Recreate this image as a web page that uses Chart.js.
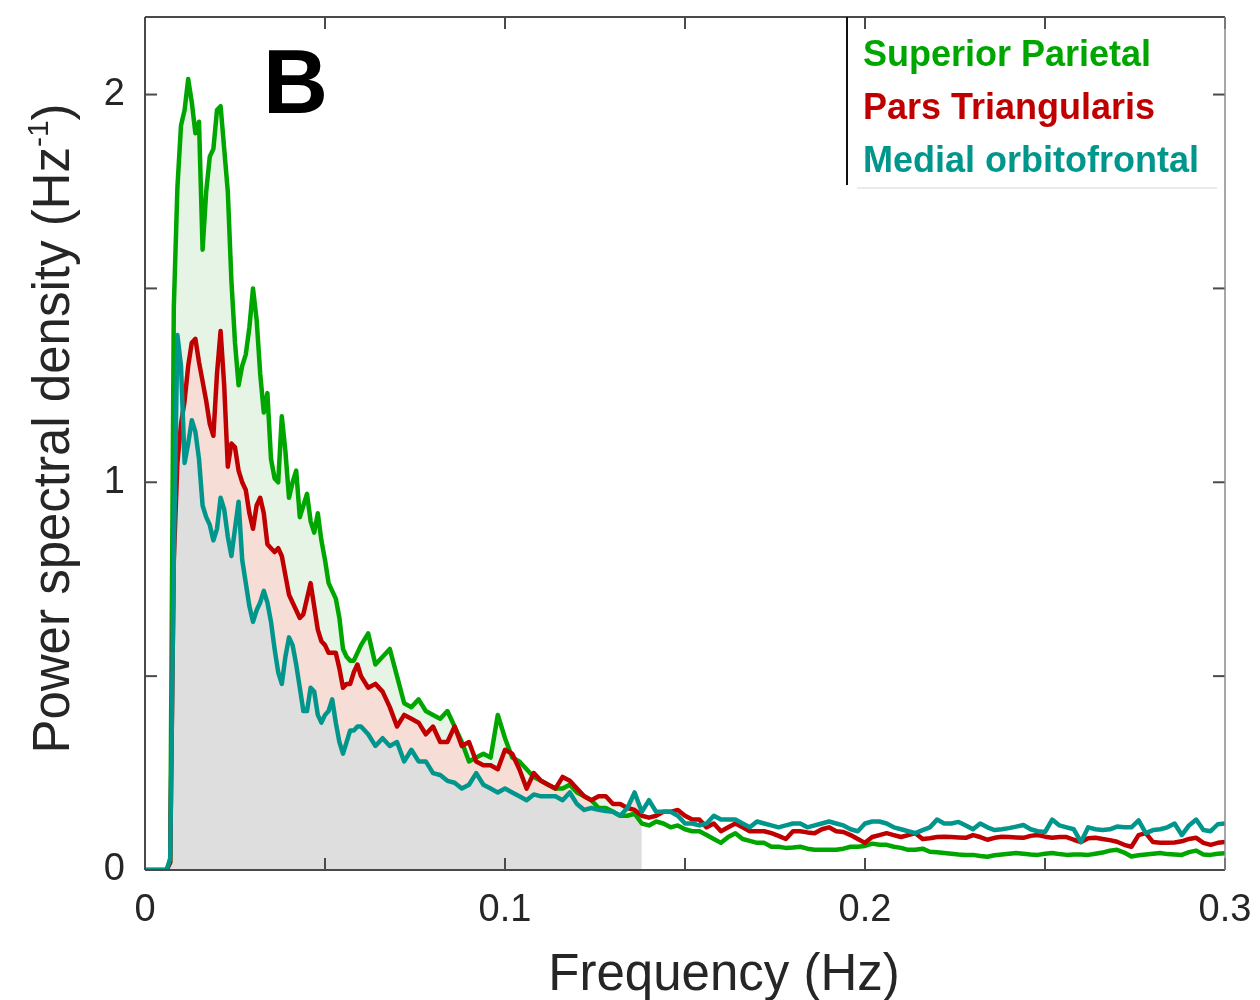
<!DOCTYPE html>
<html>
<head>
<meta charset="utf-8">
<script src="https://cdn.jsdelivr.net/npm/chart.js@4.4.1/dist/chart.umd.min.js"></script>
<style>
  html, body { margin: 0; padding: 0; background: #fff; }
  #wrap { width: 1260px; height: 1000px; position: relative; }
</style>
</head>
<body>
<div id="wrap"><canvas id="psd"></canvas></div>
<script>
// frequency bins (Hz): 0.001 spacing up to 0.06, then 0.002
const freq = [
  0, 0.001, 0.002, 0.003, 0.004, 0.005, 0.006, 0.007, 0.008, 0.009,
  0.010, 0.011, 0.012, 0.013, 0.014, 0.015, 0.016, 0.017, 0.018, 0.019,
  0.020, 0.021, 0.022, 0.023, 0.024, 0.025, 0.026, 0.027, 0.028, 0.029,
  0.030, 0.031, 0.032, 0.033, 0.034, 0.035, 0.036, 0.037, 0.038, 0.039,
  0.040, 0.041, 0.042, 0.043, 0.044, 0.045, 0.046, 0.047, 0.048, 0.049,
  0.050, 0.051, 0.052, 0.053, 0.054, 0.055, 0.056, 0.057, 0.058, 0.059,
  0.060,
  0.062, 0.064, 0.066, 0.068, 0.070, 0.072, 0.074, 0.076, 0.078, 0.080,
  0.082, 0.084, 0.086, 0.088, 0.090, 0.092, 0.094, 0.096, 0.098, 0.100,
  0.102, 0.104, 0.106, 0.108, 0.110, 0.112, 0.114, 0.116, 0.118, 0.120,
  0.122, 0.124, 0.126, 0.128, 0.130, 0.132, 0.134, 0.136, 0.138, 0.140,
  0.142, 0.144, 0.146, 0.148, 0.150, 0.152, 0.154, 0.156, 0.158, 0.160,
  0.162, 0.164, 0.166, 0.168, 0.170, 0.172, 0.174, 0.176, 0.178, 0.180,
  0.182, 0.184, 0.186, 0.188, 0.190, 0.192, 0.194, 0.196, 0.198, 0.200,
  0.202, 0.204, 0.206, 0.208, 0.210, 0.212, 0.214, 0.216, 0.218, 0.220,
  0.222, 0.224, 0.226, 0.228, 0.230, 0.232, 0.234, 0.236, 0.238, 0.240,
  0.242, 0.244, 0.246, 0.248, 0.250, 0.252, 0.254, 0.256, 0.258, 0.260,
  0.262, 0.264, 0.266, 0.268, 0.270, 0.272, 0.274, 0.276, 0.278, 0.280,
  0.282, 0.284, 0.286, 0.288, 0.290, 0.292, 0.294, 0.296, 0.298, 0.300
];

const superiorParietal = [
  0, 0, 0, 0, 0, 0, 0, 0.02, 1.45, 1.76,
  1.92, 1.96, 2.04, 1.98, 1.90, 1.93, 1.60, 1.75, 1.84, 1.86,
  1.96, 1.97, 1.86, 1.75, 1.52, 1.36, 1.25, 1.30, 1.33, 1.40,
  1.50, 1.42, 1.28, 1.18, 1.23, 1.06, 1.01, 1.00, 1.17, 1.08,
  0.96, 1.00, 1.03, 0.91, 0.94, 0.97, 0.90, 0.87, 0.92, 0.85,
  0.80, 0.74, 0.72, 0.70, 0.65, 0.57, 0.55, 0.54, 0.54, 0.56,
  0.58,
  0.61, 0.53, 0.55, 0.57, 0.50, 0.43, 0.42, 0.44, 0.41, 0.40,
  0.39, 0.41, 0.37, 0.33, 0.28, 0.29, 0.30, 0.29, 0.40, 0.34,
  0.29, 0.28, 0.26, 0.24, 0.23, 0.22, 0.21, 0.21, 0.22, 0.20,
  0.19, 0.18, 0.16, 0.16, 0.15, 0.14, 0.14, 0.145, 0.12, 0.115,
  0.125, 0.12, 0.11, 0.115, 0.105, 0.10, 0.10, 0.09, 0.08, 0.07,
  0.085, 0.095, 0.08, 0.075, 0.07, 0.07, 0.06, 0.06, 0.057, 0.058,
  0.06, 0.055, 0.052, 0.052, 0.052, 0.052, 0.055, 0.06, 0.06, 0.062,
  0.068, 0.065, 0.065, 0.06, 0.057, 0.052, 0.052, 0.055, 0.047, 0.046,
  0.044, 0.042, 0.04, 0.039, 0.039, 0.036, 0.034, 0.038, 0.04, 0.042,
  0.044, 0.042, 0.04, 0.039, 0.042, 0.044, 0.041, 0.039, 0.04, 0.04,
  0.039, 0.042, 0.045, 0.05, 0.052, 0.045, 0.035, 0.038, 0.04, 0.042,
  0.044, 0.041, 0.04, 0.039, 0.046, 0.05, 0.04, 0.039, 0.042, 0.043
];

const parsTriangularis = [
  0, 0, 0, 0, 0, 0, 0, 0.02, 0.80, 1.05,
  1.15, 1.21, 1.30, 1.36, 1.37, 1.31, 1.26, 1.21, 1.15, 1.12,
  1.28, 1.39, 1.25, 1.04, 1.10, 1.09, 1.03, 1.00, 0.98, 0.92,
  0.88, 0.94, 0.96, 0.92, 0.84, 0.83, 0.82, 0.83, 0.81, 0.76,
  0.71, 0.69, 0.67, 0.65, 0.66, 0.70, 0.74, 0.68, 0.62, 0.59,
  0.58, 0.56, 0.56, 0.56, 0.52, 0.47, 0.48, 0.48, 0.51, 0.53,
  0.50,
  0.47, 0.48, 0.46, 0.42, 0.37, 0.40, 0.39, 0.38, 0.35, 0.37,
  0.33, 0.33, 0.37, 0.32, 0.33, 0.28, 0.27, 0.27, 0.26, 0.31,
  0.30, 0.26, 0.21, 0.25, 0.23, 0.22, 0.21, 0.24, 0.23, 0.21,
  0.19, 0.18, 0.19, 0.19, 0.17, 0.17, 0.16, 0.155, 0.14, 0.135,
  0.14, 0.15, 0.15, 0.155, 0.14, 0.13, 0.13, 0.11, 0.12, 0.10,
  0.11, 0.12, 0.11, 0.10, 0.10, 0.10, 0.095, 0.088, 0.08, 0.10,
  0.10, 0.097, 0.095, 0.105, 0.11, 0.10, 0.098, 0.09, 0.08, 0.07,
  0.085, 0.09, 0.095, 0.09, 0.085, 0.09, 0.095, 0.08, 0.082, 0.085,
  0.086, 0.085, 0.084, 0.083, 0.09, 0.085, 0.078, 0.083, 0.086, 0.085,
  0.084, 0.083, 0.088, 0.09, 0.086, 0.083, 0.085, 0.085, 0.078, 0.072,
  0.082, 0.083, 0.08, 0.077, 0.073, 0.065, 0.06, 0.09, 0.095, 0.072,
  0.07, 0.07, 0.071, 0.074, 0.08, 0.083, 0.07, 0.065, 0.07, 0.072
];

const medialOrbitofrontal = [
  0, 0, 0, 0, 0, 0, 0, 0.03, 0.80, 1.38,
  1.30, 1.05, 1.10, 1.16, 1.13, 1.06, 0.94, 0.91, 0.89, 0.85,
  0.88, 0.96, 0.93, 0.86, 0.81, 0.88, 0.95, 0.80, 0.74, 0.68,
  0.64, 0.67, 0.69, 0.72, 0.69, 0.64, 0.57, 0.51, 0.48, 0.55,
  0.60, 0.58, 0.53, 0.47, 0.41, 0.41, 0.47, 0.46, 0.40, 0.38,
  0.40, 0.41, 0.44, 0.38, 0.33, 0.30, 0.33, 0.36, 0.36, 0.37,
  0.37,
  0.35, 0.32, 0.34, 0.32, 0.33, 0.28, 0.31, 0.28, 0.28, 0.25,
  0.245, 0.23, 0.225, 0.21, 0.22, 0.25, 0.22, 0.21, 0.20, 0.21,
  0.20, 0.19, 0.18, 0.195, 0.19, 0.19, 0.19, 0.18, 0.20, 0.17,
  0.155, 0.16, 0.155, 0.152, 0.15, 0.14, 0.16, 0.20, 0.15, 0.18,
  0.15, 0.15, 0.15, 0.14, 0.12, 0.12, 0.115, 0.12, 0.14, 0.13,
  0.13, 0.13, 0.12, 0.11, 0.125, 0.12, 0.115, 0.11, 0.115, 0.12,
  0.12, 0.11, 0.115, 0.12, 0.125, 0.12, 0.115, 0.105, 0.10, 0.12,
  0.125, 0.125, 0.12, 0.11, 0.105, 0.10, 0.095, 0.103, 0.11, 0.13,
  0.12, 0.12, 0.124, 0.115, 0.105, 0.12, 0.11, 0.103, 0.105, 0.108,
  0.112, 0.116, 0.105, 0.10, 0.098, 0.13, 0.115, 0.11, 0.105, 0.072,
  0.11, 0.105, 0.103, 0.105, 0.112, 0.11, 0.11, 0.128, 0.095, 0.103,
  0.105, 0.11, 0.12, 0.09, 0.115, 0.13, 0.103, 0.10, 0.118, 0.12
];

const regionNames = ['Superior Parietal', 'Pars Triangularis', 'Medial orbitofrontal'];
const regionColors = ['#00a600', '#c00000', '#00968c'];
const shadeColors = ['#e6f4e6', '#f6ddd5', '#dedede'];
const shadeUntil = 0.138;   // bands are shaded up to this frequency
const xLabelTicks = [0, 0.1, 0.2, 0.3];
const yLabelTicks = [0, 1, 2];
const panelLetter = 'B';
const xTitle = 'Frequency (Hz)';

const FONT = '"Liberation Sans", Arial, Helvetica, sans-serif';
const INK = '#262626';

const toPoints = ys => freq.map((f, i) => ({ x: f, y: ys[i] }));
const shaded = ys => toPoints(ys).filter(p => p.x <= shadeUntil + 1e-9);
const near = (v, list) => list.some(t => Math.abs(v - t) < 1e-6);

function line(ctx, x1, y1, x2, y2) {
  ctx.beginPath();
  ctx.moveTo(x1, y1);
  ctx.lineTo(x2, y2);
  ctx.stroke();
}

// MATLAB-like frame: inward ticks on all four sides
const frame = {
  id: 'frame',
  afterDatasetsDraw(chart) {
    const { ctx, chartArea: a, scales: { x, y } } = chart;
    ctx.save();
    ctx.strokeStyle = '#4a4a4a';
    ctx.lineWidth = 2;
    const len = 12;
    x.ticks.forEach(t => {
      const px = x.getPixelForValue(t.value);
      line(ctx, px, a.bottom, px, a.bottom - len);
      line(ctx, px, a.top, px, a.top + len);
    });
    y.ticks.forEach(t => {
      const py = y.getPixelForValue(t.value);
      line(ctx, a.left, py, a.left + len, py);
      line(ctx, a.right, py, a.right - len, py);
    });
    line(ctx, a.left, a.top, a.right, a.top);
    line(ctx, a.left, a.top, a.left, a.bottom);
    line(ctx, a.left, a.bottom, a.right, a.bottom);
    ctx.strokeStyle = '#8a8a8a';
    ctx.lineWidth = 1.5;
    line(ctx, a.right, a.top, a.right, a.bottom);
    ctx.restore();
  },
  afterDraw(chart) {
    const { ctx, chartArea: a } = chart;
    ctx.save();

    // legend box in the top-right corner
    const boxLeft = a.right - 378, boxBottom = a.top + 168;
    ctx.strokeStyle = '#111';
    ctx.lineWidth = 2;
    line(ctx, boxLeft, a.top, boxLeft, boxBottom);
    ctx.strokeStyle = '#e4e4e4';
    ctx.lineWidth = 1.5;
    line(ctx, boxLeft + 10, boxBottom + 3, a.right - 8, boxBottom + 3);
    ctx.font = 'bold 36px ' + FONT;
    ctx.textBaseline = 'alphabetic';
    ctx.textAlign = 'left';
    regionNames.forEach((name, i) => {
      ctx.fillStyle = regionColors[i];
      ctx.fillText(name, boxLeft + 16, a.top + 49 + i * 53);
    });

    // panel letter
    ctx.fillStyle = '#000';
    ctx.font = 'bold 90px ' + FONT;
    ctx.fillText(panelLetter, a.left + 118, a.top + 96);

    // x axis title
    ctx.fillStyle = INK;
    ctx.font = '51px ' + FONT;
    ctx.textAlign = 'center';
    ctx.fillText(xTitle, a.left + 579, a.bottom + 120);
    ctx.textAlign = 'left';

    // y axis title with superscript exponent
    const main = 'Power spectral density (Hz', sup = '-1', tail = ')';
    ctx.font = '51px ' + FONT;
    const wMain = ctx.measureText(main).width, wTail = ctx.measureText(tail).width;
    ctx.font = '30px ' + FONT;
    const wSup = ctx.measureText(sup).width;
    const total = wMain + wSup + wTail;
    ctx.translate(69, (a.top + a.bottom) / 2 - 15);
    ctx.rotate(-Math.PI / 2);
    let cx = -total / 2;
    ctx.font = '51px ' + FONT;
    ctx.fillText(main, cx, 0);
    cx += wMain;
    ctx.font = '30px ' + FONT;
    ctx.fillText(sup, cx, -21);
    cx += wSup;
    ctx.font = '51px ' + FONT;
    ctx.fillText(tail, cx, 0);
    ctx.restore();
  }
};

const lineSet = (i, ys, order) => ({
  label: regionNames[i],
  data: toPoints(ys),
  borderColor: regionColors[i],
  borderWidth: 4.5,
  borderJoinStyle: 'round',
  borderCapStyle: 'round',
  pointRadius: 0,
  fill: false,
  tension: 0,
  order
});

const bandSet = (ys, color, fill, order) => ({
  data: shaded(ys),
  borderColor: 'rgba(0,0,0,0)',
  borderWidth: 0,
  backgroundColor: color,
  pointRadius: 0,
  fill,
  tension: 0,
  order
});

new Chart(document.getElementById('psd'), {
  type: 'line',
  data: {
    datasets: [
      lineSet(2, medialOrbitofrontal, 0),
      lineSet(1, parsTriangularis, 1),
      lineSet(0, superiorParietal, 2),
      bandSet(medialOrbitofrontal, shadeColors[2], 'origin', 5),
      bandSet(parsTriangularis, shadeColors[1], { target: 3, above: shadeColors[1], below: shadeColors[1] }, 4),
      bandSet(superiorParietal, shadeColors[0], { target: 4, above: shadeColors[0], below: shadeColors[0] }, 3)
    ]
  },
  options: {
    animation: false,
    responsive: true,
    maintainAspectRatio: false,
    devicePixelRatio: 1,
    layout: { padding: { top: 17, right: 35, left: 0, bottom: 0 } },
    plugins: {
      legend: { display: false },
      tooltip: { enabled: false }
    },
    scales: {
      x: {
        type: 'linear',
        min: 0,
        max: 0.3,
        grid: { display: false },
        border: { display: false },
        ticks: {
          stepSize: 0.05,
          autoSkip: false,
          maxRotation: 0,
          padding: 10,
          color: INK,
          font: { family: FONT, size: 38 },
          callback: v => near(v, xLabelTicks) ? String(Math.round(v * 10) / 10) : ''
        },
        afterFit: s => { s.height = 130; s.paddingLeft = 0; s.paddingRight = 0; }
      },
      y: {
        min: 0,
        max: 2.2,
        grid: { display: false },
        border: { display: false },
        ticks: {
          stepSize: 0.5,
          autoSkip: false,
          padding: 12,
          color: INK,
          font: { family: FONT, size: 38 },
          callback: v => near(v, yLabelTicks) ? String(Math.round(v)) : ''
        },
        afterFit: s => { s.width = 145; s.paddingTop = 0; s.paddingBottom = 0; }
      }
    }
  },
  plugins: [frame]
});
</script>
</body>
</html>
